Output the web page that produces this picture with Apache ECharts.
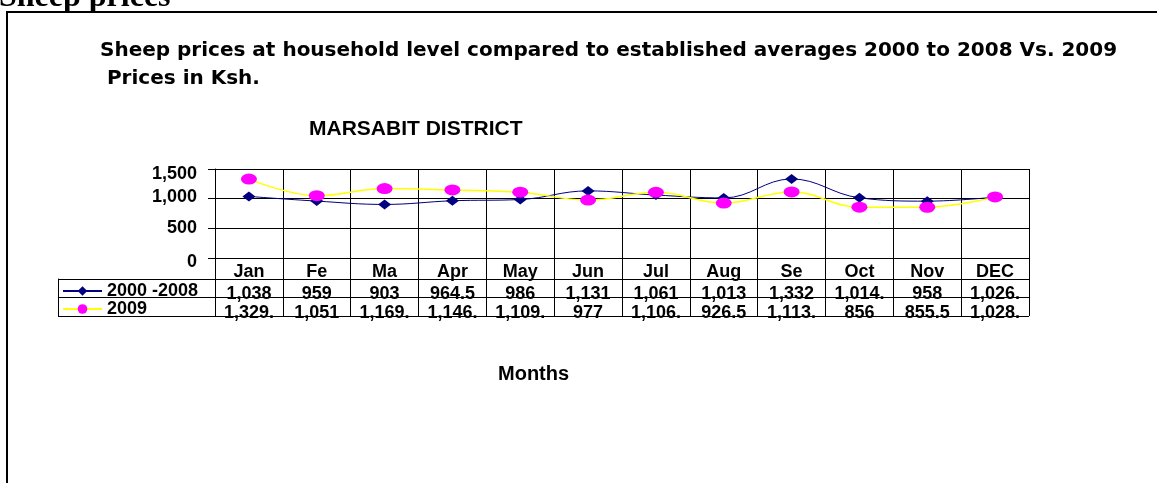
<!DOCTYPE html>
<html>
<head>
<meta charset="utf-8">
<script src="https://cdn.jsdelivr.net/npm/echarts@6/dist/echarts.min.js"></script>
<style>
  html, body { margin: 0; padding: 0; background: #fff; }
  #main { width: 1157px; height: 483px; }
</style>
</head>
<body>
<div id="main"></div>
<script>
// data
var months = ['Jan', 'Fe', 'Ma', 'Apr', 'May', 'Jun', 'Jul', 'Aug', 'Se', 'Oct', 'Nov', 'DEC'];
var avg2000to2008 = [1038, 959, 903, 964.5, 986, 1131, 1061, 1013, 1332, 1014.5, 958, 1026.5];
var prices2009 = [1329.5, 1051, 1169.5, 1146.5, 1109.5, 977, 1106.5, 926.5, 1113.5, 856, 855.5, 1028.5];
var seriesNames = ['2000 -2008', '2009'];
var yMin = 0, yMax = 1500, yStep = 500;

var FONT = '"Liberation Sans", Arial, sans-serif';
var boldText = { fontFamily: FONT, fontWeight: 'bold', fontSize: 18, color: '#000' };

// the table cells are too narrow, so the numbers get cut like in the sheet
function cellText(v) {
    var s = v.toLocaleString('en-US', { maximumFractionDigits: 1 });
    return s.length > 6 ? s.slice(0, 6) : s;
}

// excel put the y labels a bit off their gridlines
var yLabelNudge = { 1500: 'dn5', 1000: 'up2', 500: 'none', 0: 'dn4' };

var myChart = echarts.init(document.getElementById('main'), null, { renderer: 'canvas' });

myChart.setOption({
    animation: false,
    backgroundColor: '#fff',
    title: [
        {
            text: 'Sheep prices at household level compared to established averages 2000 to 2008 Vs. 2009\n Prices in Ksh.',
            left: 95, top: 32,
            textStyle: { fontFamily: '"DejaVu Sans", sans-serif', fontWeight: 'bold', fontSize: 20, lineHeight: 28, color: '#000' }
        },
        {
            text: 'MARSABIT DISTRICT',
            left: 304, top: 114,
            textStyle: { fontFamily: FONT, fontWeight: 'bold', fontSize: 21, color: '#000' }
        },
        {
            text: 'Months',
            left: 493, top: 359,
            textStyle: { fontFamily: FONT, fontWeight: 'bold', fontSize: 20, color: '#000' }
        }
    ],
    graphic: [
        {
            type: 'text', x: -1, y: -2, silent: true,
            style: { text: 'Sheep prices', font: 'bold 32px "Liberation Serif", "Times New Roman", serif', fill: '#000', verticalAlign: 'middle' }
        },
        {
            type: 'polyline', silent: true,
            shape: { points: [[7, 490], [7, 12], [1165, 12]] },
            style: { stroke: '#000', lineWidth: 2, fill: null }
        }
    ],
    legend: {
        data: seriesNames,
        orient: 'vertical',
        left: 62, top: 282,
        itemWidth: 39, itemHeight: 12, itemGap: 0,
        padding: 0,
        textStyle: boldText
    },
    grid: [
        { left: 215, top: 169, width: 814, height: 89 },
        { left: 215, top: 279, width: 814, height: 37 },
        { left: 58, top: 279, width: 157, height: 37 }
    ],
    xAxis: [
        {
            gridIndex: 0, type: 'category', data: months, boundaryGap: true,
            axisLine: { lineStyle: { color: '#000', width: 1 } },
            axisTick: { show: true, length: 21, lineStyle: { color: '#000' } },
            axisLabel: Object.assign({ margin: 5, interval: 0 }, boldText),
            splitLine: { show: true, lineStyle: { color: '#000', width: 1 } }
        },
        {
            gridIndex: 1, type: 'category', data: months, boundaryGap: true,
            axisLine: { show: false }, axisTick: { show: false }, axisLabel: { show: false },
            splitLine: { show: true, lineStyle: { color: '#000', width: 1 } }
        },
        {
            gridIndex: 2, type: 'category', data: ['legend'],
            axisLine: { show: false }, axisTick: { show: false }, axisLabel: { show: false },
            splitLine: { show: false }
        }
    ],
    yAxis: [
        {
            gridIndex: 0, type: 'value', min: yMin, max: yMax, interval: yStep,
            axisLine: { show: true, lineStyle: { color: '#000', width: 1 } },
            axisTick: { show: true, length: 7, lineStyle: { color: '#000' } },
            axisLabel: Object.assign({
                margin: 18,
                formatter: function (v) {
                    return '{' + yLabelNudge[v] + '|' + v.toLocaleString('en-US') + '}';
                },
                rich: {
                    dn5: Object.assign({ padding: [10, 0, 0, 0] }, boldText),
                    dn4: Object.assign({ padding: [8, 0, 0, 0] }, boldText),
                    up2: Object.assign({ padding: [0, 0, 4, 0] }, boldText),
                    none: boldText
                }
            }, boldText),
            splitLine: { show: true, lineStyle: { color: '#000', width: 1 } }
        },
        {
            gridIndex: 1, type: 'category', data: seriesNames, inverse: true, boundaryGap: true,
            axisLine: { show: false }, axisTick: { show: false }, axisLabel: { show: false },
            splitLine: { show: true, lineStyle: { color: '#000', width: 1 } }
        },
        {
            gridIndex: 2, type: 'category', data: seriesNames, inverse: true, boundaryGap: true,
            axisLine: { show: true, lineStyle: { color: '#000', width: 1 } },
            axisTick: { show: false }, axisLabel: { show: false },
            splitLine: { show: true, lineStyle: { color: '#000', width: 1 } }
        }
    ],
    series: [
        {
            name: seriesNames[0], type: 'line', xAxisIndex: 0, yAxisIndex: 0,
            data: avg2000to2008, smooth: 0.4,
            symbol: 'diamond', symbolSize: [13, 10],
            lineStyle: { color: '#000080', width: 1 },
            itemStyle: { color: '#000080' }
        },
        {
            name: seriesNames[1], type: 'line', xAxisIndex: 0, yAxisIndex: 0,
            data: prices2009, smooth: 0.4,
            symbol: 'circle', symbolSize: [16, 11],
            lineStyle: { color: '#ffff00', width: 1.5 },
            itemStyle: { color: '#ff00ff' }
        },
        {
            name: 'table row 1', type: 'scatter', xAxisIndex: 1, yAxisIndex: 1, silent: true,
            symbolSize: 0, itemStyle: { color: '#000', opacity: 1 },
            data: avg2000to2008.map(function (v, i) { return [i, 0]; }),
            label: Object.assign({
                show: true, position: 'inside', offset: [0, 6], textBorderWidth: 0, opacity: 1,
                formatter: function (p) { return cellText(avg2000to2008[p.dataIndex]); }
            }, boldText)
        },
        {
            name: 'table row 2', type: 'scatter', xAxisIndex: 1, yAxisIndex: 1, silent: true,
            symbolSize: 0, itemStyle: { color: '#000', opacity: 1 },
            data: prices2009.map(function (v, i) { return [i, 1]; }),
            label: Object.assign({
                show: true, position: 'inside', offset: [0, 6], textBorderWidth: 0, opacity: 1,
                formatter: function (p) { return cellText(prices2009[p.dataIndex]); }
            }, boldText)
        }
    ]
});
</script>
</body>
</html>
